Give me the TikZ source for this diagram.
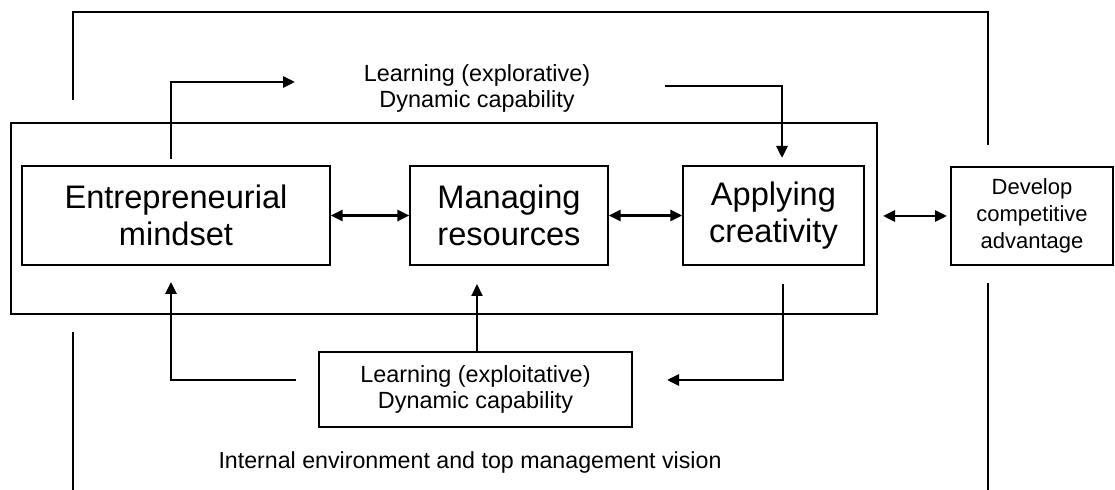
\documentclass[tikz,border=0pt]{standalone}
\usepackage{fontspec}
\setmainfont{Liberation Sans}
\usetikzlibrary{arrows.meta}
\begin{document}
\begin{tikzpicture}[x=0.5pt,y=-0.5pt,
  box/.style={draw, line width=0.7pt, inner sep=0pt, align=center},
  bigbox/.style={box, font=\fontsize{16.3}{18.5}\selectfont},
  smallbox/.style={box, font=\fontsize{11}{13.5}\selectfont},
  thin/.style={line width=0.8pt},
  thick arrow/.style={line width=1.4pt, -{Triangle[length=6pt,width=5.5pt]}},
  dbl arrow/.style={line width=1.4pt, {Triangle[length=6pt,width=5.5pt]}-{Triangle[length=6pt,width=5.5pt]}}
]
\useasboundingbox (0,0) rectangle (1115,490);
% outer frame
\node[box, minimum width=433pt, minimum height=95.5pt] (frame) at (444,218.5) {};
% main boxes
\node[bigbox, minimum width=154pt, minimum height=49.5pt] (em) at (176,215.5) {Entrepreneurial\\mindset};
\node[bigbox, minimum width=99pt, minimum height=49.5pt] (mr) at (509,215.5) {Managing\\resources};
\node[bigbox, minimum width=90.5pt, minimum height=49.5pt] (ac) at (773.5,215.5) {Applying\\creativity};
\node[smallbox, minimum width=81pt, minimum height=49pt] (dca) at (1032,216) {Develop\\competitive\\advantage};
\node[box, font=\fontsize{11.7}{13}\selectfont, minimum width=156.5pt, minimum height=37.5pt] (exploit) at (475.5,389.5) {Learning (exploitative)\\Dynamic capability};
\node[align=center, inner sep=0pt, font=\fontsize{11.7}{13}\selectfont] (explore) at (477,88) {Learning (explorative)\\Dynamic capability};
\node[inner sep=0pt, font=\fontsize{11.6}{13}\selectfont] (env) at (470,463) {Internal environment and top management vision};
% coordinates
\coordinate (a1) at (171,159);
\coordinate (a2) at (171,82);
\coordinate (a3) at (295,82);
\coordinate (b1) at (665,86);
\coordinate (b2) at (782,86);
\coordinate (b3) at (782,158);
\coordinate (c1) at (477,352);
\coordinate (c2) at (477,284);
\coordinate (d1) at (783,284);
\coordinate (d2) at (783,380);
\coordinate (d3) at (667,380);
\coordinate (e1) at (296,380);
\coordinate (e2) at (171,380);
\coordinate (e3) at (171,282);
\coordinate (f1) at (73,100);
\coordinate (f2) at (73,12);
\coordinate (f3) at (988,12);
\coordinate (f4) at (988,145);
\coordinate (g1) at (73,332);
\coordinate (g2) at (73,490);
\coordinate (h1) at (988,283);
\coordinate (h2) at (988,490);
\coordinate (ad1) at (883,216);
\coordinate (ad2) at (947,216);
% horizontal double arrows
\draw[dbl arrow] (em.east) -- (mr.west);
\draw[dbl arrow, line width=1.8pt] (mr.east) -- (ac.west);
\draw[dbl arrow] (ad1) -- (ad2);
% explorative loop
\draw[thick arrow] (a1) -- (a2) -- (a3);
\draw[thick arrow] (b1) -- (b2) -- (b3);
% exploitative loop
\draw[thick arrow, line width=1pt] (c1) -- (c2);
\draw[thick arrow] (d1) -- (d2) -- (d3);
\draw[thick arrow] (e1) -- (e2) -- (e3);
% environment lines
\draw[thin] (f1) -- (f2) -- (f3) -- (f4);
\draw[thin] (g1) -- (g2);
\draw[thin] (h1) -- (h2);
\end{tikzpicture}
\end{document}
